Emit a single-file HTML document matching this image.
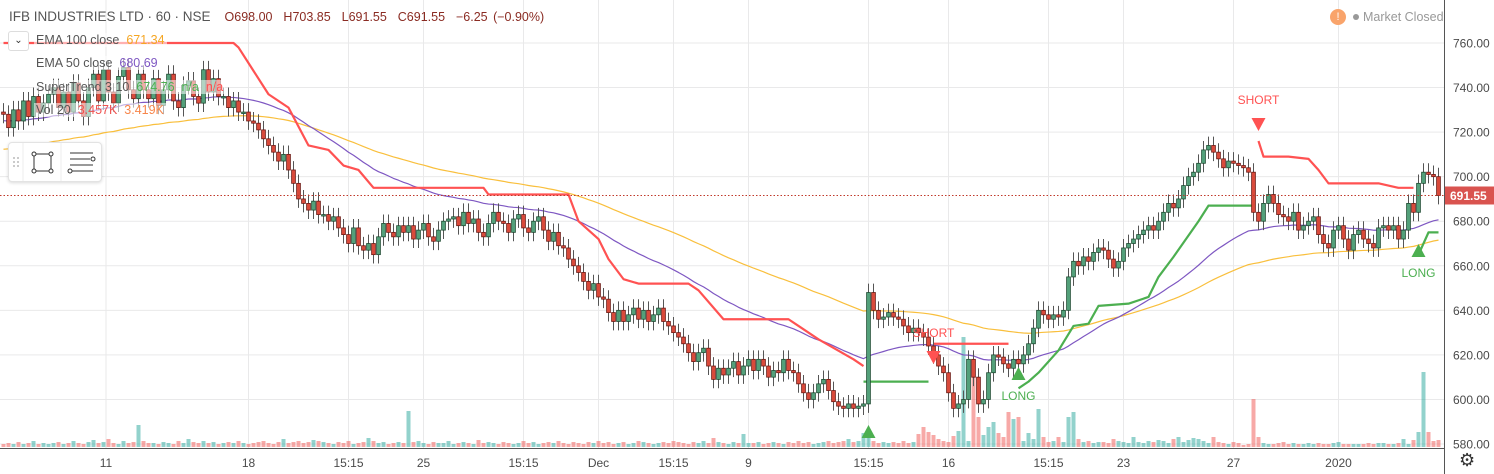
<!DOCTYPE html>
<html><head><meta charset="utf-8"><style>
html,body{margin:0;padding:0;background:#fff;width:1494px;height:474px;overflow:hidden;font-family:"Liberation Sans",sans-serif;}
svg text{font-family:"Liberation Sans",sans-serif;}
</style></head><body>
<svg id="chart" width="1494" height="474" xmlns="http://www.w3.org/2000/svg">
<g id="grid"></g>
<g id="vol"></g>
<g id="ind"></g>
<g id="candles"></g>
<g id="marks"></g>
<g id="axes"></g>
</svg>
<script>
const closes = [
728,722,730,725,734,727,736,729,733,737,
740,731,738,729,742,734,727,740,746,734,
748,738,733,745,749,739,735,746,739,735,
744,732,739,746,734,731,741,743,736,733,
748,738,744,736,736,731,734,729,729,725,
724,721,717,714,711,707,710,703,697,690,
688,685,689,683,683,680,682,677,674,670,
677,669,667,670,665,673,679,675,673,678,
675,678,672,676,679,673,671,676,680,681,
682,678,684,679,681,675,673,679,684,680,
679,675,681,683,677,675,680,682,676,671,
675,669,668,663,660,657,653,649,652,646,
645,639,635,640,635,638,641,636,640,635,
638,641,635,633,630,628,625,621,617,621,
623,615,609,614,611,614,617,611,615,618,
613,618,615,610,613,612,618,613,612,607,
603,600,603,607,609,604,599,597,596,598,
596,597,598,648,640,636,637,639,637,636,
633,630,632,630,628,624,620,615,612,603,
596,598,600,618,610,598,600,612,620,619,
616,614,618,616,620,625,632,640,638,636,
638,637,640,655,662,660,664,662,666,668,
667,663,659,662,668,670,672,674,676,678,
676,680,684,688,686,690,696,700,702,706,
712,714,711,708,704,707,706,705,704,702,
684,680,688,692,688,683,682,680,684,676,
678,680,682,674,670,668,676,678,672,667,
674,676,672,670,668,677,678,676,678,672,
676,688,684,697,702,701,700,691.55];
const volumes = [
3,4,3,5,3,4,6,3,4,3, 4,5,3,4,6,4,3,5,7,4, 5,8,4,3,6,4,5,22,6,4, 4,3,5,4,3,6,4,8,5,4,
6,4,5,3,4,5,4,6,4,3, 4,5,6,4,3,5,8,4,5,6, 4,5,7,6,5,4,3,5,4,6, 3,4,5,9,6,4,5,3,4,5,
4,36,5,6,4,3,5,4,4,6, 3,4,5,4,3,7,4,5,4,3, 5,4,3,4,6,4,5,3,4,5, 4,6,4,3,5,4,3,5,4,6,
4,5,3,4,5,3,4,6,5,4, 3,4,5,4,6,5,4,3,5,4, 6,4,9,5,4,3,5,4,13,4, 4,5,3,4,5,4,3,5,4,6,
4,5,3,4,5,6,4,5,6,8, 5,6,14,10,6,4,5,4,5,4, 6,4,5,13,20,15,12,8,6,5, 11,16,110,6,80,30,12,20,25,14,
10,35,28,30,6,14,8,38,10,5, 6,10,5,30,35,8,5,6,4,5, 5,4,8,6,5,4,10,5,4,6, 5,7,6,4,8,10,5,7,9,8,
6,4,10,5,4,3,5,4,2,3, 48,10,4,3,3,4,5,3,4,3, 3,4,3,4,3,3,4,5,3,3, 3,3,3,4,3,4,4,3,3,4,
8,3,7,15,75,15,6,7];
const firstOpen = 729;
const ema50Seed = 725, ema100Seed = 712;
const stRed1Idx = [0,46,47,53,57,61,65,68,71,74,96,97,113,115,119,121,124,127,137,139,144,157,159,163,170,172];
const stRed1Val = [760,760,758,737,731,714,712,705,703,695,695,692,692,680,672,663,654,652,652,649,636,636,633,627,618,615];
const stGreen1Idx = [172,185];
const stGreen1Val = [608,608];
const stRed2Idx = [186,201];
const stRed2Val = [625,625];
const stGreen2Idx = [203,205,207,211,214,217,219,225,229,231,234,239,241,250];
const stGreen2Val = [605,608,612,622,633,634,642,643,646,655,664,680,687,687];
const stRed3Idx = [251,252,257,261,263,265,275,279,282];
const stRed3Val = [716,709,709,708,703,697,697,695,695];
const stGreen3Idx = [283,284,285,287];
const stGreen3Val = [665,670,675,675];
const priceTicks = [760,740,720,700,680,660,640,620,600,580];
const timeLabels = ["11","18","15:15","25","15:15","Dec","15:15","9","15:15","16","15:15","23","27","2020"];
const timeLabelIdx = [20.5,49,69,84,104,119,134,149,173,189,209,224,246,267];
const longIdx = [173,203,283];
const longY = [438,380,257];
const shortIdx = [186,251];
const shortY = [351,118];

const NS="http://www.w3.org/2000/svg";
function y(p){return 43+(760-p)*2.2278;}
function x(i){return 3.5+i*5;}
function mk(t,a,parent){const e=document.createElementNS(NS,t);for(const k in a)e.setAttribute(k,a[k]);parent.appendChild(e);return e;}
const grid=document.getElementById('grid'),volG=document.getElementById('vol'),ind=document.getElementById('ind'),cG=document.getElementById('candles'),marks=document.getElementById('marks'),axes=document.getElementById('axes');

priceTicks.forEach(p=>{
  const l=mk('line',{x1:0,x2:1444,y1:y(p),y2:y(p),stroke:'#e9e9ea','stroke-width':1},grid);
  
  
  const t=mk('text',{x:1453,y:y(p)+4.5,'font-size':12,fill:'#4a4a4a'},axes);t.textContent=p.toFixed(2);
  
  
});
timeLabels.forEach((s,k)=>{
  const xx=x(timeLabelIdx[k]);
  const l=mk('line',{x1:xx,x2:xx,y1:0,y2:448,stroke:'#e9e9ea','stroke-width':1},grid);
  
  
  const t=mk('text',{x:xx,y:467,'font-size':12,fill:'#4a4a4a','text-anchor':'middle'},axes);t.textContent=s;
  
  
});

closes.forEach((c,i)=>{
  const o=i?closes[i-1]:firstOpen;
  const h=volumes[i];
  const r=mk('rect',{x:x(i)-2,y:447-h,width:4,height:h,fill:c>=o?'rgba(38,166,154,0.5)':'rgba(239,83,80,0.5)'},volG);
  
  
});

function ema(n,seed){const a=2/(n+1);let e=seed;return closes.map(c=>(e=e+a*(c-e)));}
function poly(idx,val,col,w,name){
  const pts=idx.map((i,k)=>x(i)+','+y(val[k])).join(' ');
  const p=mk('polyline',{points:pts,fill:'none',stroke:col,'stroke-width':w,'stroke-linejoin':'round'},ind);
  
  
}
const allIdx=closes.map((c,i)=>i);
poly(allIdx,ema(100,ema100Seed),'#f9bf3c',1.2,'ema-100-line');
poly(allIdx,ema(50,ema50Seed),'#7e57c2',1.2,'ema-50-line');
poly(stRed1Idx,stRed1Val,'#ff5252',2.2,'supertrend-down-1');
poly(stGreen1Idx,stGreen1Val,'#4caf50',2.2,'supertrend-up-1');
poly(stRed2Idx,stRed2Val,'#ff5252',2.2,'supertrend-down-2');
poly(stGreen2Idx,stGreen2Val,'#4caf50',2.2,'supertrend-up-2');
poly(stRed3Idx,stRed3Val,'#ff5252',2.2,'supertrend-down-3');
poly(stGreen3Idx,stGreen3Val,'#4caf50',2.2,'supertrend-up-3');

closes.forEach((c,i)=>{
  const o=i?closes[i-1]:firstOpen;
  const up=c>=o, hi=Math.max(o,c)+4, lo=Math.min(o,c)-4;
  const w=mk('line',{x1:x(i),x2:x(i),y1:y(hi),y2:y(lo),stroke:'#555','stroke-width':1},cG);
  
  
  const top=y(Math.max(o,c)),hh=Math.max(1.5,Math.abs(y(o)-y(c)));
  const b=mk('rect',{x:x(i)-1.9,y:top,width:3.8,height:hh,fill:up?'#53a07a':'#d94a3b',stroke:up?'#1f4d33':'#6e1a14','stroke-width':0.8},cG);
  
  
});

longIdx.forEach((i,k)=>{
  const ty=longY[k];
  const p=mk('polygon',{points:`${x(i)-7},${ty} ${x(i)+7},${ty} ${x(i)},${ty-13}`,fill:'#4caf50'},marks);
  
  
  if(k>0){const t=mk('text',{x:x(i),y:ty+20,'font-size':12,fill:'#4caf50','text-anchor':'middle'},marks);t.textContent='LONG';
  
  }
});
shortIdx.forEach((i,k)=>{
  const ty=shortY[k];
  const p=mk('polygon',{points:`${x(i)-7},${ty} ${x(i)+7},${ty} ${x(i)},${ty+13}`,fill:'#ff5252'},marks);
  
  
  const t=mk('text',{x:x(i),y:ty-14,'font-size':12,fill:'#ff5252','text-anchor':'middle'},marks);t.textContent='SHORT';
  
  
});
const last=closes[closes.length-1];
const pl=mk('line',{x1:0,x2:1444,y1:y(last),y2:y(last),stroke:'#c0392b','stroke-width':1,'stroke-dasharray':'1.5,2'},marks);


const pb=mk('rect',{x:1444,y:y(last)-9,width:50,height:18,fill:'#d9534f'},axes);


const pt=mk('text',{x:1450,y:y(last)+4.5,'font-size':12,'font-weight':'bold',fill:'#fff'},axes);pt.textContent=last.toFixed(2);


const ax1=mk('line',{x1:0,x2:1444,y1:448.5,y2:448.5,stroke:'#555','stroke-width':1},axes);


const ax2=mk('line',{x1:1444.5,x2:1444.5,y1:0,y2:474,stroke:'#555','stroke-width':1},axes);


</script>
<div style="position:absolute;left:0;top:0;width:700px;height:130px;font-size:12.5px;color:#555;">
  <div style="position:absolute;left:9px;top:9px;font-size:13.5px;white-space:nowrap;"><span style="color:#555">IFB INDUSTRIES LTD · 60 · NSE</span><span style="color:#8a2b22;margin-left:14px;font-size:12.5px;word-spacing:2px">O698.00&nbsp; H703.85&nbsp; L691.55&nbsp; C691.55&nbsp; −6.25 (−0.90%)</span></div>
  <div style="position:absolute;left:8px;top:31px;width:19px;height:18px;border:1px solid #ddd;border-radius:3px;background:#fff;text-align:center;font-size:10px;line-height:18px;color:#333">&#8964;</div>
  <div style="position:absolute;left:34px;top:33px;background:rgba(255,255,255,0.55);padding:0 2px;white-space:nowrap">EMA 100 close&nbsp; <span style="color:#f5a623">671.34</span></div>
  <div style="position:absolute;left:34px;top:56px;background:rgba(255,255,255,0.55);padding:0 2px;white-space:nowrap">EMA 50 close&nbsp; <span style="color:#7e57c2">680.69</span></div>
  <div style="position:absolute;left:34px;top:80px;background:rgba(255,255,255,0.55);padding:0 2px;white-space:nowrap">SuperTrend 3 10&nbsp; <span style="color:#4caf50">674.76&nbsp; n/a</span>&nbsp; <span style="color:#ff5252">n/a</span></div>
  <div style="position:absolute;left:34px;top:103px;background:rgba(255,255,255,0.55);padding:0 2px;white-space:nowrap">Vol 20&nbsp; <span style="color:#ef5350">3.457K</span>&nbsp; <span style="color:#f7864b">3.419K</span></div>
</div>
<div style="position:absolute;left:8px;top:142px;width:92px;height:38px;background:#fff;border:1px solid #e3e3e3;border-radius:4px;box-shadow:0 1px 3px rgba(0,0,0,0.15);">
  <svg width="92" height="38" style="position:absolute;left:0;top:0">
    <g fill="#bbb"><circle cx="5" cy="15" r="1"/><circle cx="9" cy="15" r="1"/><circle cx="5" cy="19" r="1"/><circle cx="9" cy="19" r="1"/><circle cx="5" cy="23" r="1"/><circle cx="9" cy="23" r="1"/></g>
    <line x1="14" y1="0" x2="14" y2="38" stroke="#eee"/><line x1="52" y1="0" x2="52" y2="38" stroke="#eee"/>
    <g fill="none" stroke="#333" stroke-width="1"><rect x="25" y="11" width="17" height="17"/><circle cx="25" cy="11" r="2" fill="#fff"/><circle cx="42" cy="11" r="2" fill="#fff"/><circle cx="25" cy="28" r="2" fill="#fff"/><circle cx="42" cy="28" r="2" fill="#fff"/></g>
    <g fill="none" stroke="#333" stroke-width="1"><line x1="61" y1="10" x2="84" y2="10"/><line x1="61" y1="16" x2="81" y2="16"/><line x1="61" y1="22" x2="84" y2="22"/><line x1="63" y1="28" x2="84" y2="28"/><circle cx="84" cy="16" r="2" fill="#fff"/><circle cx="61" cy="28" r="2" fill="#fff"/></g>
  </svg>
</div>
<div style="position:absolute;left:1330px;top:9px;white-space:nowrap;font-size:12.5px;color:#999;">
  <span style="display:inline-block;width:16px;height:16px;border-radius:8px;background:#f9a46b;color:#fff;text-align:center;line-height:16px;font-size:11px;vertical-align:middle">!</span>
  <span style="display:inline-block;width:6px;height:6px;border-radius:3px;background:#999;margin-left:4px;vertical-align:middle"></span>
  <span style="vertical-align:middle">Market Closed</span>
</div>
<div style="position:absolute;left:1459px;top:450px;font-size:18px;color:#333;">&#9881;</div>
</body></html>
